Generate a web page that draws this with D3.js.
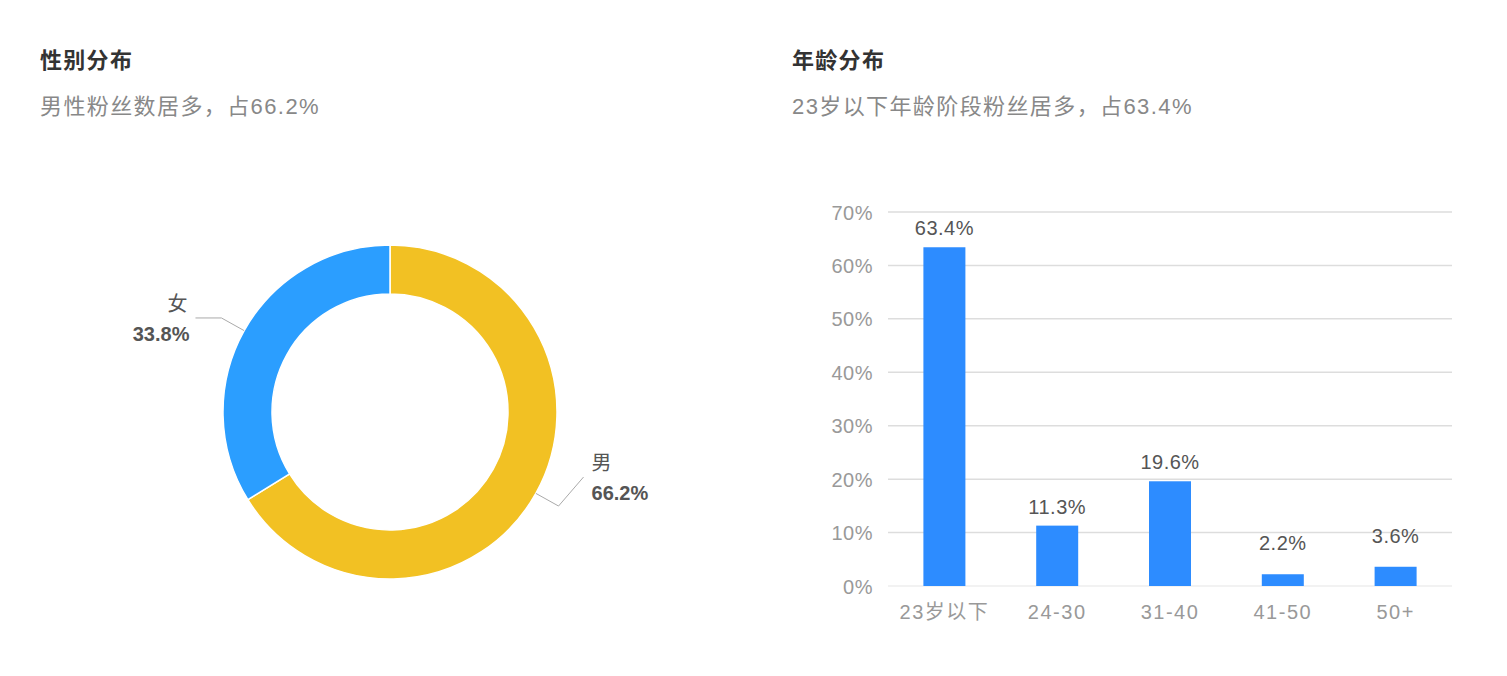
<!DOCTYPE html>
<html>
<head>
<meta charset="utf-8">
<script src="https://d3js.org/d3.v7.min.js"></script>
<style>
body{margin:0;background:#fff;font-family:"Liberation Sans","Noto Sans CJK SC",sans-serif}
svg text{font-family:"Liberation Sans","Noto Sans CJK SC",sans-serif}
</style>
</head>
<body>
<svg id="chart" width="1507" height="676"></svg>
<script>
// gender data
const genders = ["男", "女"];
const genderValues = [66.2, 33.8];
const genderColors = ["#F2C123", "#2B9EFF"];
// age data
const ages = ["23岁以下", "24-30", "31-40", "41-50", "50+"];
const ageValues = [63.4, 11.3, 19.6, 2.2, 3.6];
const ageTicks = [0, 10, 20, 30, 40, 50, 60, 70];

const svg = d3.select("#chart");

// titles
function heading(x, title, sub) {
  svg.append("text").attr("x", x).attr("y", 68)
    .attr("font-size", 22).attr("font-weight", "bold").attr("fill", "#333")
    .attr("letter-spacing", 1.3).text(title);
  svg.append("text").attr("x", x).attr("y", 114)
    .attr("font-size", 22).attr("fill", "#888")
    .attr("letter-spacing", 1.4).text(sub);
}
heading(40, "性别分布", "男性粉丝数居多，占66.2%");
heading(792, "年龄分布", "23岁以下年龄阶段粉丝居多，占63.4%");

/* donut */
const cx = 390, cy = 412, rOut = 167, rIn = 118;
const g = svg.append("g").attr("transform", `translate(${cx},${cy})`);
const pie = d3.pie().sort(null).value(d => d)(genderValues);
const arc = d3.arc().innerRadius(rIn).outerRadius(rOut);
g.selectAll("path").data(pie).enter().append("path")
  .attr("d", arc)
  .attr("fill", (d, i) => genderColors[i])
  .attr("stroke", "#fff").attr("stroke-width", 1.5);

// label guides: [dx, dy] of the last segment end from the elbow
const bends = [[25, -29], [-26, 0]];
pie.forEach((d, i) => {
  const a = (d.startAngle + d.endAngle) / 2;
  const p1 = [Math.sin(a) * rOut, -Math.cos(a) * rOut];
  const p2 = [Math.sin(a) * (rOut + 26), -Math.cos(a) * (rOut + 26)];
  const p3 = [p2[0] + bends[i][0], p2[1] + bends[i][1]];
  g.append("polyline")
    .attr("points", [p1, p2, p3].map(p => p.join(",")).join(" "))
    .attr("fill", "none").attr("stroke", "#aaa").attr("stroke-width", 1);
  const right = Math.sin(a) > 0;
  const lx = right ? p3[0] + 8 : p3[0] - 8;
  const anchor = right ? "start" : "end";
  const ly = right ? p3[1] : p2[1];
  g.append("text").attr("x", lx).attr("y", ly - 7)
    .attr("text-anchor", anchor).attr("font-size", 20).attr("fill", "#555").text(genders[i]);
  g.append("text").attr("x", right ? lx : lx + 2).attr("y", ly + 23)
    .attr("text-anchor", anchor).attr("font-size", 20).attr("font-weight", "bold").attr("fill", "#555")
    .text(genderValues[i] + "%");
});

/* bar chart */
const x0 = 888, x1 = 1452, yTop = 212, yBot = 586;
const x = d3.scaleBand().domain(ages).range([x0, x1]);
const y = d3.scaleLinear().domain([0, 70]).range([yBot, yTop]);
const barW = 42;

const grid = svg.append("g");
grid.selectAll("line").data(ageTicks).enter().append("line")
  .attr("x1", x0).attr("x2", x1)
  .attr("y1", d => y(d)).attr("y2", d => y(d))
  .attr("stroke", d => d === 0 ? "#eee" : "#ddd").attr("stroke-width", 1.5);

const yAxis = svg.append("g").attr("transform", `translate(${x0 - 12},0)`)
  .call(d3.axisLeft(y).tickValues(ageTicks).tickFormat(d => d + "%").tickSize(0));
yAxis.select(".domain").remove();
yAxis.selectAll("text").attr("font-size", 20).attr("fill", "#999").attr("dy", "0.35em")
  .attr("letter-spacing", 0.5)
  .attr("font-family", "Liberation Sans, Noto Sans CJK SC, sans-serif");

const xAxis = svg.append("g").attr("transform", `translate(0,${yBot})`)
  .call(d3.axisBottom(x).tickSize(0).tickPadding(19));
xAxis.select(".domain").remove();
xAxis.selectAll("text").attr("font-size", 20).attr("fill", "#999")
  .attr("letter-spacing", 1.5)
  .attr("font-family", "Liberation Sans, Noto Sans CJK SC, sans-serif");

svg.append("g").selectAll("rect").data(ageValues).enter().append("rect")
  .attr("x", (d, i) => x(ages[i]) + x.bandwidth() / 2 - barW / 2)
  .attr("width", barW)
  .attr("y", d => y(d))
  .attr("height", d => yBot - y(d))
  .attr("fill", "#2D8CFF");

// short bars get their labels lifted a little more
svg.append("g").selectAll("text").data(ageValues).enter().append("text")
  .attr("x", (d, i) => x(ages[i]) + x.bandwidth() / 2)
  .attr("y", d => y(d) - (d < 5 ? 24 : 12))
  .attr("text-anchor", "middle").attr("font-size", 20).attr("fill", "#555")
  .attr("letter-spacing", 0.5)
  .text(d => d + "%");
</script>
</body>
</html>
